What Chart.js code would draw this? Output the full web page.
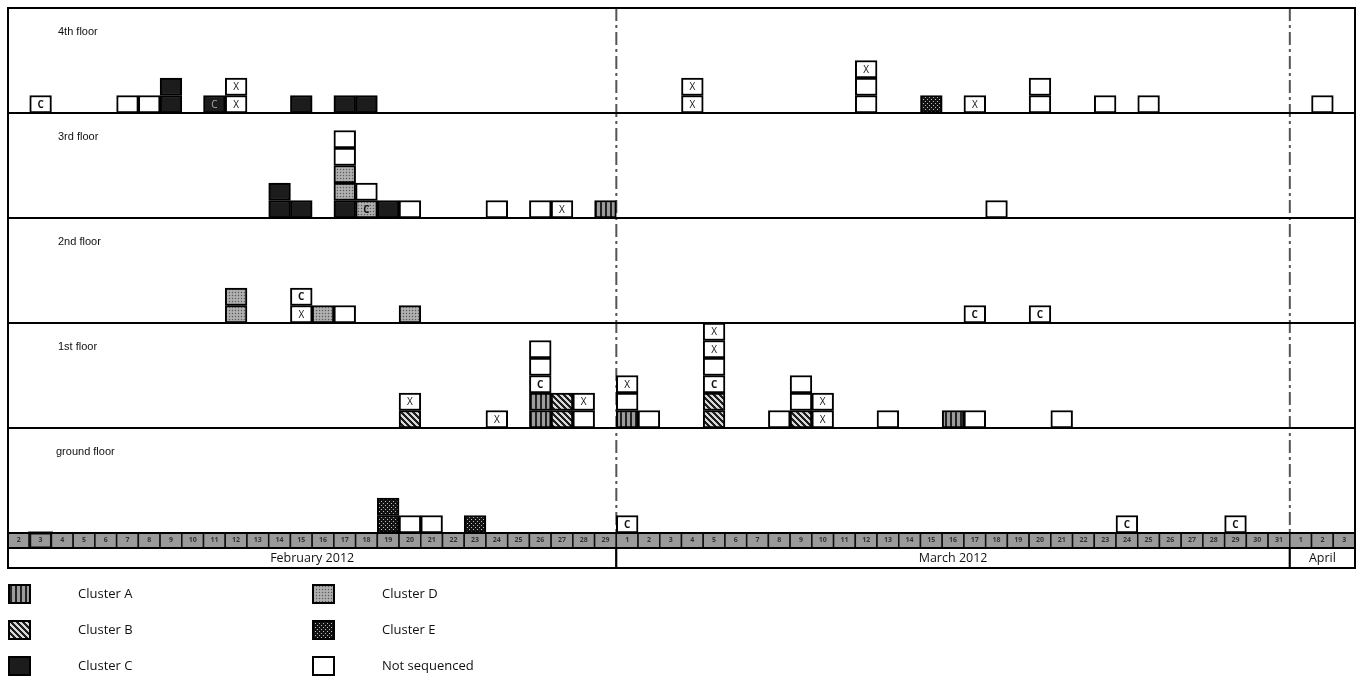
<!DOCTYPE html>
<html><head><meta charset="utf-8">
<script src="https://cdn.jsdelivr.net/npm/chart.js@4.4.1/dist/chart.umd.min.js"></script>
<style>html,body{margin:0;padding:0;background:#fff}canvas{display:block}</style>
</head><body>
<canvas id="c" width="1359" height="676"></canvas>
<script>
// ---- categories (days) ----
const febDays = [2,3,4,5,6,7,8,9,10,11,12,13,14,15,16,17,18,19,20,21,22,23,24,25,26,27,28,29];
const marDays = [1,2,3,4,5,6,7,8,9,10,11,12,13,14,15,16,17,18,19,20,21,22,23,24,25,26,27,28,29,30,31];
const aprDays = [1,2,3];
const monthNames = ['February 2012','March 2012','April'];
const monthKeys = ['Feb','Mar','Apr'];

// ---- cluster types ----
const clusterCodes = ['A','B','C','D','E','N'];
const clusterNames = ['Cluster A','Cluster B','Cluster C','Cluster D','Cluster E','Not sequenced'];

// ---- cases per floor: [day, stack of cases bottom->top]; code = type + optional mark (x / c) ----
const floor4 = [
  ['Feb 3',['Nc']],['Feb 7',['N']],['Feb 8',['N']],['Feb 9',['C','C']],['Feb 11',['Cc']],
  ['Feb 12',['Nx','Nx']],['Feb 15',['C']],['Feb 17',['C']],['Feb 18',['C']],
  ['Mar 4',['Nx','Nx']],['Mar 12',['N','N','Nx']],['Mar 15',['E']],['Mar 17',['Nx']],
  ['Mar 20',['N','N']],['Mar 23',['N']],['Mar 25',['N']],['Apr 2',['N']]
];
const floor3 = [
  ['Feb 14',['C','C']],['Feb 15',['C']],['Feb 17',['C','D','D','N','N']],['Feb 18',['Dc','N']],
  ['Feb 19',['C']],['Feb 20',['N']],['Feb 24',['N']],['Feb 26',['N']],['Feb 27',['Nx']],
  ['Feb 29',['A']],['Mar 18',['N']]
];
const floor2 = [
  ['Feb 12',['D','D']],['Feb 15',['Nx','Nc']],['Feb 16',['D']],['Feb 17',['N']],['Feb 20',['D']],
  ['Mar 17',['Nc']],['Mar 20',['Nc']]
];
const floor1 = [
  ['Feb 20',['B','Nx']],['Feb 24',['Nx']],['Feb 26',['A','A','Nc','N','N']],['Feb 27',['B','B']],
  ['Feb 28',['N','Nx']],['Mar 1',['A','N','Nx']],['Mar 2',['N']],['Mar 5',['B','B','Nc','N','Nx','Nx']],
  ['Mar 8',['N']],['Mar 9',['B','N','N']],['Mar 10',['Nx','Nx']],['Mar 13',['N']],
  ['Mar 16',['A']],['Mar 17',['N']],['Mar 21',['N']]
];
const floor0 = [
  ['Feb 19',['E','E']],['Feb 20',['N']],['Feb 21',['N']],['Feb 23',['E']],
  ['Mar 1',['Nc']],['Mar 24',['Nc']],['Mar 29',['Nc']]
];
const floorNames = ['ground floor','1st floor','2nd floor','3rd floor','4th floor'];
const floorData = [floor0, floor1, floor2, floor3, floor4];
const levelsPerFloor = 6;

// ---- build labels ----
const dayGroups = [febDays, marDays, aprDays];
const labels = [];
dayGroups.forEach((g, mi) => g.forEach(d => labels.push(monthKeys[mi] + ' ' + d)));

// ---- patterns ----
function tile(w, h, fn) {
  const cv = document.createElement('canvas'); cv.width = w; cv.height = h;
  const c = cv.getContext('2d');
  for (let y = 0; y < h; y++) for (let x = 0; x < w; x++) { c.fillStyle = fn(x, y); c.fillRect(x, y, 1, 1); }
  return document.getElementById('c').getContext('2d').createPattern(cv, 'repeat');
}
const fills = {
  A: tile(5, 5, (x) => x < 2 ? '#222' : '#9c9c9c'),
  B: tile(6, 6, (x, y) => ((x - y + 60) % 6) < 3 ? '#1e1e1e' : '#d8d8d8'),
  C: '#1c1c1c',
  D: tile(3, 3, (x, y) => (x === 1 && y === 1) ? '#5a5a5a' : ((x + y) % 2 ? '#a4a4a4' : '#b0b0b0')),
  E: tile(4, 4, (x, y) => ((x === 1 && y === 1) || (x === 3 && y === 3)) ? '#bdbdbd' : '#121212'),
  N: '#ffffff'
};

// ---- datasets ----
const datasets = clusterCodes.map((code, i) => ({
  label: clusterNames[i], code, data: [],
  backgroundColor: fills[code], borderColor: '#000', borderWidth: 2, borderSkipped: false,
  grouped: false, categoryPercentage: 1, barPercentage: 1
}));
floorData.forEach((fl, fi) => {
  const base = fi * levelsPerFloor;
  fl.forEach(([day, cells]) => cells.forEach((cell, lvl) => {
    const ds = datasets[clusterCodes.indexOf(cell[0])];
    ds.data.push({x: day, y: [base + lvl, base + lvl + 1], mark: cell[1] || ''});
  }));
});

function monthSpan(xs, mi) {
  const first = labels.indexOf(monthKeys[mi] + ' ' + dayGroups[mi][0]);
  const last = labels.indexOf(monthKeys[mi] + ' ' + dayGroups[mi][dayGroups[mi].length - 1]);
  const hw = (xs.getPixelForValue(1) - xs.getPixelForValue(0)) / 2;
  return [xs.getPixelForValue(first) - hw, xs.getPixelForValue(last) + hw];
}

const framePlugin = {
  id: 'frame',
  beforeDraw(chart) {
    const {ctx, chartArea: ca, scales: {x: xs}} = chart;
    ctx.save();
    ctx.fillStyle = '#fff'; ctx.fillRect(0, 0, chart.width, chart.height);
    const hw = (xs.getPixelForValue(1) - xs.getPixelForValue(0)) / 2;
    const rowTop = ca.bottom, rowBot = ca.bottom + 15;
    // day cells
    labels.forEach((l, i) => {
      const cx = xs.getPixelForValue(i);
      ctx.fillStyle = '#9a9a9a';
      ctx.fillRect(cx - hw, rowTop, hw * 2, rowBot - rowTop);
      ctx.strokeStyle = '#111'; ctx.lineWidth = (l === 'Feb 3') ? 3 : 1.5;
      ctx.strokeRect(cx - hw, rowTop, hw * 2, rowBot - rowTop);
    });
    // month row
    const mTop = rowBot, mBot = rowBot + 20;
    ctx.font = '12.5px "Open Sans", sans-serif'; ctx.textAlign = 'center'; ctx.textBaseline = 'middle';
    monthNames.forEach((m, mi) => {
      const [a, b] = monthSpan(xs, mi);
      ctx.fillStyle = '#fff'; ctx.fillRect(a, mTop, b - a, mBot - mTop);
      ctx.strokeStyle = '#000'; ctx.lineWidth = 2; ctx.strokeRect(a, mTop, b - a, mBot - mTop);
      ctx.fillStyle = '#111'; ctx.fillText(m, (a + b) / 2, (mTop + mBot) / 2 + 0.5);
    });
    // dash-dot month separators
    ctx.strokeStyle = '#555'; ctx.lineWidth = 2; ctx.setLineDash([13, 4, 3, 4]);
    [1, 2].forEach(mi => {
      const [a] = monthSpan(xs, mi);
      ctx.beginPath(); ctx.moveTo(a, ca.top); ctx.lineTo(a, ca.bottom); ctx.stroke();
    });
    ctx.restore();
  },
  afterDatasetsDraw(chart) {
    const {ctx, chartArea: ca, scales: {y: ys}} = chart;
    ctx.save();
    // marks in boxes
    chart.data.datasets.forEach((ds, di) => {
      const meta = chart.getDatasetMeta(di);
      meta.data.forEach((el, i) => {
        const mark = ds.data[i].mark;
        if (!mark) return;
        const cy = (el.y + el.base) / 2;
        ctx.textAlign = 'center'; ctx.textBaseline = 'middle';
        if (mark === 'x') { ctx.font = '10px "Open Sans", sans-serif'; }
        else { ctx.font = (ds.code === 'C' ? '' : 'bold ') + '10px "Open Sans", sans-serif'; }
        ctx.fillStyle = ds.code === 'C' ? '#aaa' : '#111';
        ctx.fillText(mark.toUpperCase(), el.x, cy + 0.5);
      });
    });
    // panel separators and frame
    ctx.strokeStyle = '#000'; ctx.lineWidth = 2;
    for (let f = 1; f < floorNames.length; f++) {
      const py = ys.getPixelForValue(f * levelsPerFloor);
      ctx.beginPath(); ctx.moveTo(ca.left, py); ctx.lineTo(ca.right, py); ctx.stroke();
    }
    ctx.beginPath();
    ctx.moveTo(ca.left, ca.bottom + 35); ctx.lineTo(ca.left, ca.top); ctx.lineTo(ca.right, ca.top); ctx.lineTo(ca.right, ca.bottom + 35);
    ctx.stroke();
    ctx.beginPath(); ctx.moveTo(ca.left, ca.bottom); ctx.lineTo(ca.right, ca.bottom); ctx.stroke();
    // floor labels
    ctx.font = '11px "Liberation Sans", Arial, sans-serif'; ctx.textAlign = 'left'; ctx.textBaseline = 'middle'; ctx.fillStyle = '#111';
    floorNames.forEach((n, f) => {
      const top = ys.getPixelForValue((f + 1) * levelsPerFloor);
      ctx.fillText(n, f === 0 ? 56 : 58, top + 24);
    });
    // legend
    const rows = [594, 630, 666];
    ctx.font = '13px "Open Sans", sans-serif';
    clusterCodes.forEach((code, i) => {
      const col = Math.floor(i / 3), row = i % 3;
      const bx = col === 0 ? 9 : 313, tx = col === 0 ? 78 : 382;
      const cy = rows[row];
      ctx.fillStyle = fills[code]; ctx.fillRect(bx, cy - 9, 21, 18);
      ctx.strokeStyle = '#000'; ctx.lineWidth = 2; ctx.strokeRect(bx, cy - 9, 21, 18);
      ctx.fillStyle = '#111'; ctx.fillText(clusterNames[i], tx, cy);
    });
    ctx.restore();
  }
};

new Chart(document.getElementById('c'), {
  type: 'bar',
  data: {labels, datasets},
  options: {
    responsive: false, animation: false, devicePixelRatio: 1,
    layout: {padding: {top: 8, left: 8, right: 4, bottom: 0}},
    plugins: {legend: {display: false}, tooltip: {enabled: false}},
    scales: {
      x: {
        type: 'category', offset: true,
        grid: {display: false, drawTicks: false}, border: {display: false},
        ticks: {autoSkip: false, maxRotation: 0, minRotation: 0, padding: 3, color: '#333',
          font: {size: 7, weight: 'bold', family: '"Open Sans", sans-serif'},
          callback(v) { return this.getLabelForValue(v).split(' ')[1]; }},
        afterFit(s) { s.height = 143; }
      },
      y: {min: 0, max: floorNames.length * levelsPerFloor, display: false}
    }
  },
  plugins: [framePlugin]
});
</script>
</body></html>
